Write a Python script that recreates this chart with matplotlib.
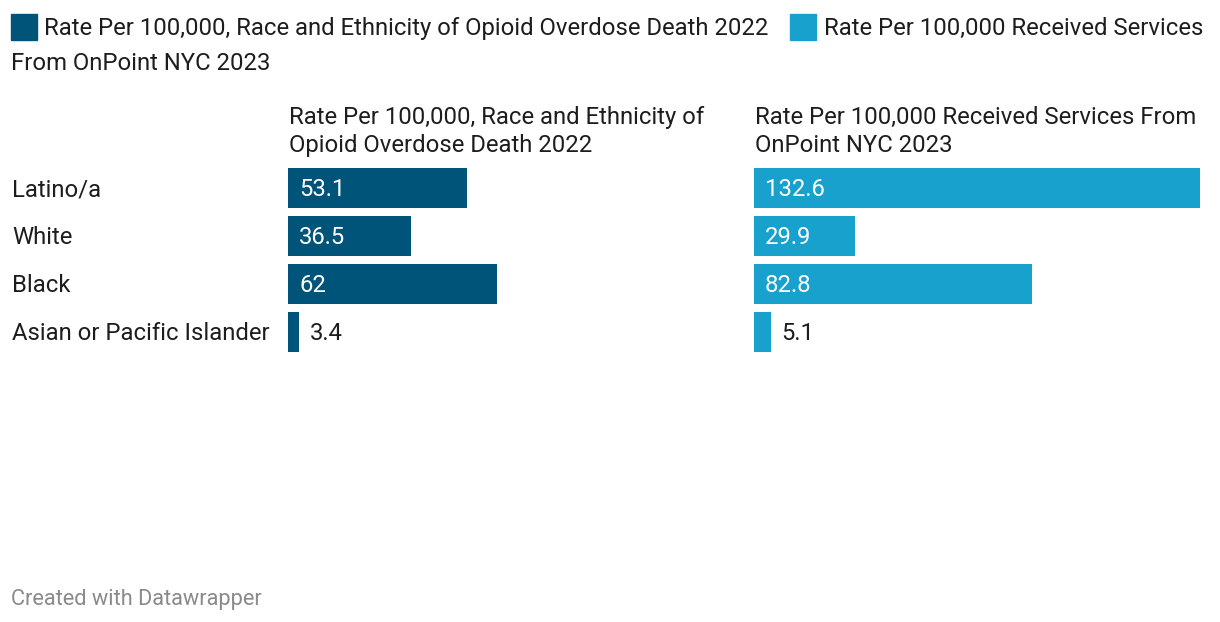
import matplotlib.pyplot as plt

plt.rcParams['font.family'] = ['Roboto', 'DejaVu Sans']

# data
groups = ['Latino/a', 'White', 'Black', 'Asian or Pacific Islander']
deaths_2022 = [53.1, 36.5, 62, 3.4]
services_2023 = [132.6, 29.9, 82.8, 5.1]
series_names = ['Rate Per 100,000, Race and Ethnicity of Opioid Overdose Death 2022',
                'Rate Per 100,000 Received Services From OnPoint NYC 2023']
headers = ['Rate Per 100,000, Race and Ethnicity of\nOpioid Overdose Death 2022',
           'Rate Per 100,000 Received Services From\nOnPoint NYC 2023']

dark = '#00547a'
light = '#18a1cd'
txt = '#1d1d1d'

W, H = 1220, 622
fig = plt.figure(figsize=(W / 100, H / 100), dpi=100)
fs = 17.2


def px(x, y):
    # pixel position (from top-left) to figure fraction
    return x / W, 1 - y / H


# legend
for x0, col in [(11, dark), (790, light)]:
    fig.patches.append(plt.Rectangle(px(x0, 40), 26 / W, 26 / H, color=col,
                                     transform=fig.transFigure))
fig.text(*px(44, 25.5), series_names[0], fontsize=fs, color=txt, va='center_baseline')
fig.text(*px(824, 25.5), 'Rate Per 100,000 Received Services', fontsize=fs, color=txt,
         va='center_baseline')
fig.text(*px(11, 61.5), 'From OnPoint NYC 2023', fontsize=fs, color=txt, va='center_baseline')

# category labels
for i, g in enumerate(groups):
    fig.text(*px(12, 187 + 48 * i), g, fontsize=fs, color=txt, va='center_baseline')

xmax = max(services_2023)
for x0, vals, col, head in [(288, deaths_2022, dark, headers[0]),
                            (754, services_2023, light, headers[1])]:
    ax = fig.add_axes([x0 / W, 1 - 356 / H, 446 / W, 192 / H])
    ax.barh(range(len(groups)), vals, height=40 / 48, color=col)
    ax.set_xlim(0, xmax)
    ax.set_ylim(3.5, -0.5)
    ax.axis('off')
    for i, v in enumerate(vals):
        label = f'{v:g}'
        if v > 10:
            ax.annotate(label, (0, i), xytext=(8, 0.8), textcoords='offset points',
                        color='white', fontsize=fs, va='center_baseline')
        else:
            ax.annotate(label, (v, i), xytext=(7.5, 0.8), textcoords='offset points',
                        color=txt, fontsize=fs, va='center_baseline')
    fig.text(*px(x0 + 1, 131.5), head, fontsize=fs, color=txt, va='center',
             linespacing=1.27)

fig.text(*px(11, 597), 'Created with Datawrapper', fontsize=15.7, color='#8a8a8a',
         va='center_baseline')

fig.savefig('out.png', dpi=100)
